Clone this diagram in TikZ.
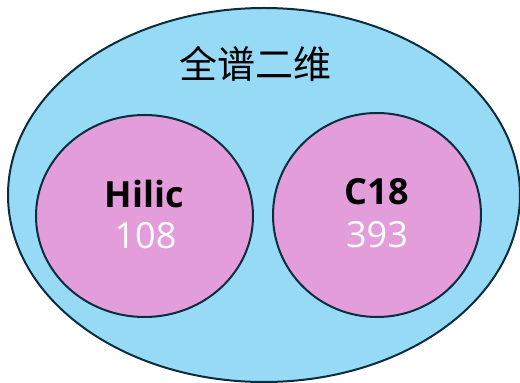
\documentclass[tikz,border=0pt]{standalone}
\usepackage{fontspec}
\setmainfont{Open Sans}
\newfontfamily\cjk{Noto Sans CJK SC}
\usetikzlibrary{shapes.geometric}
\definecolor{outerblue}{HTML}{96DAF6}
\definecolor{innerpink}{HTML}{E39DDB}
\definecolor{edgenavy}{HTML}{0B2D3E}
\tikzset{
  setshape/.style={ellipse, draw=edgenavy, line width=2pt, inner sep=0pt},
  grouplabel/.style={anchor=base, font=\fontsize{36}{36}\selectfont\bfseries, text=black},
  countlabel/.style={anchor=base, font=\fontsize{36}{36}\selectfont, text=white},
}
\begin{document}
\begin{tikzpicture}[x=1pt,y=1pt]
\useasboundingbox (0,0) rectangle (520,383);
\begin{scope}
\clip (0,0) rectangle (520,383);
\node[setshape, fill=outerblue, minimum width=512pt, minimum height=374pt] (outer) at (264,188) {};
\end{scope}
\node[setshape, fill=innerpink, minimum width=217pt, minimum height=202pt] (hilic) at (144.5,167) {};
\node[setshape, fill=innerpink, minimum width=208pt, minimum height=204pt] (c18) at (377,168) {};
\node[anchor=center, font=\cjk\fontsize{38}{38}\selectfont] (title) at (255,319) {全谱二维};
\node[grouplabel] (hname) at (144.5,175) {Hilic};
\node[countlabel] (hnum) at (145.5,134) {108};
\node[grouplabel] (cname) at (377,178) {C18};
\node[countlabel] (cnum) at (377,135) {393};
\end{tikzpicture}
\end{document}
